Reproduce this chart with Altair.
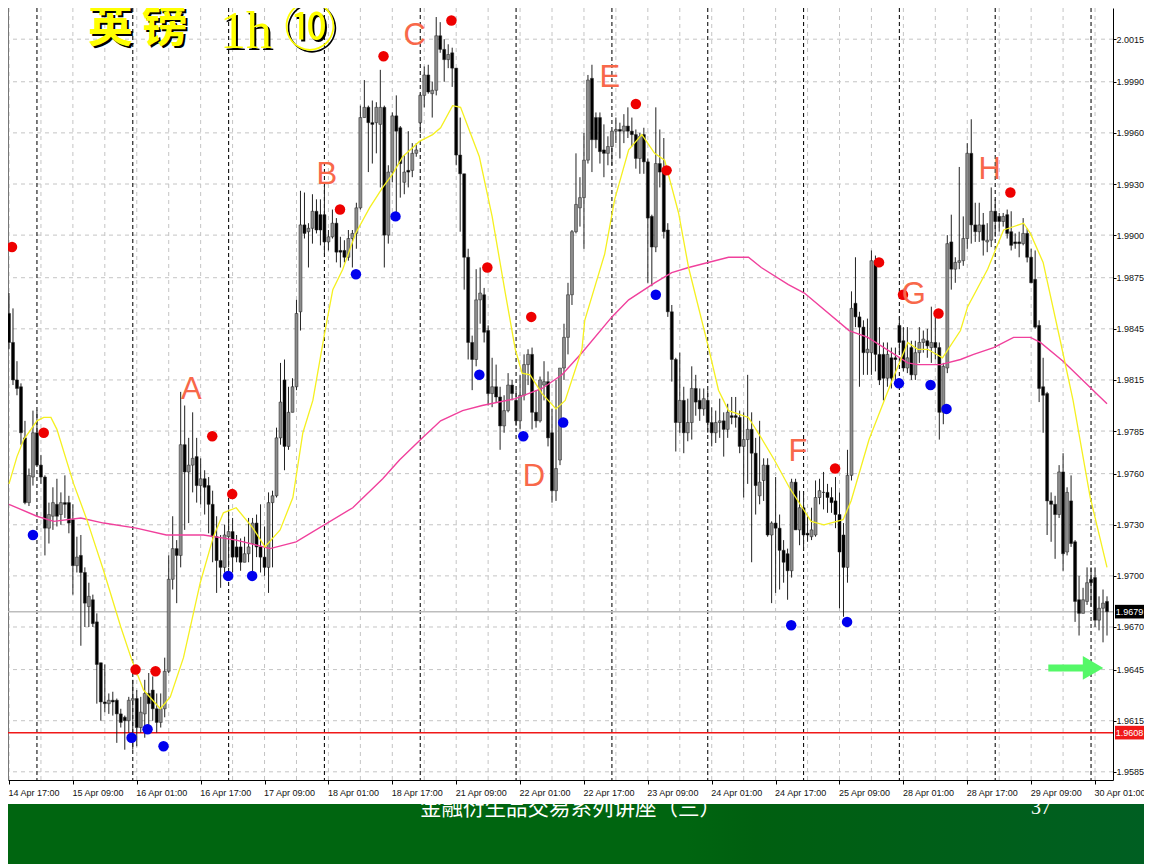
import altair as alt
import pandas as pd

# Prices are held in pips above 1.0000 (9960 = 1.9960)
opens = [
9854,9837,9815,9811,9781,9743,9758,9784,9765,9758,
9728,9735,9742,9736,9743,9743,9733,9706,9712,9702,
9682,9686,9673,9649,9626,9625,9627,9627,9619,9617,
9615,9627,9628,9611,9619,9631,9633,9622,9614,9622,
9644,9698,9716,9712,9777,9761,9765,9770,9753,9757,
9753,9742,9723,9709,9705,9723,9726,9717,9717,9708,
9713,9719,9731,9717,9711,9705,9743,9747,9781,9815,
9776,9796,9811,9855,9906,9902,9904,9914,9912,9912,
9896,9899,9907,9891,9891,9887,9898,9901,9916,9969,
9975,9966,9966,9965,9975,9900,9937,9970,9963,9931,
9938,9938,9948,9966,9982,9994,9983,9985,10017,10009,
10003,10007,9998,9947,9936,9887,9837,9827,9862,9865,
9844,9807,9811,9805,9788,9797,9812,9803,9791,9806,
9824,9830,9796,9791,9812,9814,9784,9750,9768,9822,
9840,9865,9902,9916,9922,9944,9992,9969,9969,9950,
9948,9952,9961,9962,9961,9964,9961,9959,9945,9959,
9943,9911,9893,9942,9939,9903,9855,9827,9790,9803,
9784,9790,9810,9803,9798,9803,9790,9784,9790,9791,
9786,9794,9794,9793,9776,9780,9786,9772,9747,9756,
9765,9724,9731,9728,9715,9713,9703,9755,9727,9740,
9725,9723,9724,9746,9749,9749,9746,9744,9736,9724,
9705,9759,9860,9852,9846,9831,9831,9885,9830,9830,
9816,9828,9828,9847,9838,9822,9834,9818,9831,9837,
9838,9834,9837,9834,9796,9822,9896,9880,9884,9885,
9898,9948,9906,9902,9906,9896,9897,9914,9911,9908,
9912,9902,9896,9896,9895,9901,9887,9874,9847,9811,
9807,9744,9742,9736,9761,9714,9744,9720,9686,9678,
9685,9698,9699,9674,9681,9685]
highs = [
9866,9857,9826,9813,9791,9763,9797,9797,9771,9759,
9743,9752,9757,9749,9759,9747,9742,9723,9724,9705,
9696,9689,9678,9649,9648,9631,9632,9628,9622,9618,
9629,9639,9633,9629,9639,9643,9641,9631,9631,9652,
9712,9735,9721,9808,9800,9781,9796,9781,9769,9762,
9758,9750,9735,9724,9730,9739,9734,9724,9722,9723,
9734,9734,9736,9742,9729,9749,9750,9787,9825,9827,
9811,9816,9862,9926,9925,9907,9924,9921,9921,9929,
9903,9915,9910,9899,9897,9903,9903,9919,9976,9991,
9976,9979,9978,9997,9976,9941,9972,9982,9964,9947,
9961,9954,9954,9983,9999,10000,9990,10028,10025,10015,
10012,10010,9998,9969,9936,9892,9841,9880,9881,9869,
9847,9828,9824,9811,9806,9819,9815,9809,9818,9830,
9833,9834,9809,9817,9826,9820,9798,9815,9822,9848,
9872,9903,9948,9934,9960,9994,10000,9972,9972,9965,
9958,9961,9969,9966,9971,9975,9969,9962,9960,9963,
9945,9912,9975,9962,9957,9907,9859,9828,9831,9811,
9804,9823,9818,9810,9810,9809,9799,9797,9804,9796,
9801,9805,9805,9797,9796,9818,9796,9781,9791,9769,
9769,9732,9758,9736,9721,9716,9757,9757,9750,9749,
9735,9740,9756,9757,9761,9754,9752,9758,9749,9731,
9774,9867,9887,9855,9850,9851,9891,9888,9846,9837,
9837,9834,9834,9852,9846,9846,9838,9838,9846,9844,
9845,9858,9852,9837,9825,9900,9912,9887,9940,9911,
9954,9968,9919,9919,9913,9907,9928,9921,9913,9913,
9915,9914,9901,9902,9910,9904,9892,9891,9850,9828,
9808,9749,9747,9765,9772,9752,9759,9721,9700,9693,
9705,9705,9705,9688,9692,9688]
lows = [
9833,9812,9806,9777,9742,9741,9753,9765,9754,9712,
9719,9727,9729,9730,9734,9725,9689,9702,9659,9670,
9670,9670,9625,9615,9620,9619,9618,9602,9611,9598,
9608,9598,9600,9608,9605,9610,9615,9608,9611,9617,
9643,9692,9684,9705,9727,9731,9749,9743,9742,9736,
9725,9708,9690,9693,9702,9705,9702,9708,9703,9708,
9708,9702,9711,9702,9700,9690,9705,9746,9777,9762,
9774,9796,9809,9844,9898,9881,9895,9901,9894,9889,
9891,9898,9884,9881,9884,9885,9881,9892,9915,9969,
9937,9942,9948,9928,9881,9895,9931,9913,9922,9924,
9928,9934,9946,9960,9975,9983,9969,9982,10007,9990,
9998,9987,9941,9902,9868,9827,9809,9823,9848,9837,
9800,9799,9802,9774,9784,9796,9803,9788,9786,9803,
9812,9786,9787,9790,9803,9776,9743,9744,9765,9815,
9830,9859,9901,9905,9892,9942,9937,9951,9942,9934,
9941,9941,9954,9945,9954,9957,9952,9939,9936,9936,
9872,9870,9890,9928,9898,9852,9814,9773,9784,9772,
9779,9780,9794,9791,9794,9784,9776,9778,9781,9770,
9781,9789,9787,9772,9746,9754,9708,9736,9742,9744,
9723,9684,9690,9692,9696,9686,9699,9727,9718,9716,
9720,9721,9723,9742,9739,9737,9737,9728,9681,9676,
9696,9756,9846,9811,9818,9818,9818,9820,9812,9803,
9811,9810,9815,9831,9820,9819,9815,9815,9825,9831,
9828,9825,9827,9780,9789,9819,9868,9872,9880,9882,
9892,9895,9896,9896,9888,9890,9893,9899,9902,9905,
9898,9891,9892,9887,9894,9884,9872,9845,9802,9784,
9724,9720,9710,9734,9703,9712,9717,9673,9665,9678,
9683,9682,9670,9668,9661,9665]
closes = [
9837,9815,9810,9784,9743,9759,9784,9765,9758,9728,
9736,9743,9735,9743,9742,9731,9706,9711,9702,9684,
9688,9672,9648,9626,9625,9627,9626,9619,9614,9615,
9627,9628,9611,9620,9631,9625,9622,9614,9622,9644,
9698,9716,9712,9777,9761,9765,9769,9753,9757,9752,
9742,9723,9709,9705,9724,9726,9711,9711,9708,9713,
9717,9731,9717,9711,9705,9743,9747,9781,9802,9776,
9796,9811,9854,9906,9901,9904,9914,9903,9903,9896,
9899,9907,9890,9890,9887,9898,9901,9916,9969,9975,
9966,9965,9975,9975,9900,9937,9970,9961,9942,9937,
9937,9948,9950,9982,9994,9984,9985,10017,10009,10003,
10006,9998,9947,9936,9887,9837,9827,9862,9866,9843,
9807,9811,9805,9788,9797,9812,9807,9791,9806,9824,
9830,9796,9791,9815,9814,9781,9750,9763,9822,9840,
9865,9902,9918,9922,9944,9991,9956,9956,9949,9948,
9952,9961,9962,9961,9964,9961,9959,9945,9958,9943,
9910,9893,9942,9937,9902,9855,9827,9790,9803,9784,
9790,9810,9802,9798,9804,9790,9784,9790,9791,9786,
9796,9793,9793,9776,9780,9786,9772,9753,9755,9765,
9724,9731,9728,9715,9708,9703,9755,9727,9740,9724,
9724,9727,9746,9750,9749,9746,9743,9736,9714,9705,
9759,9857,9852,9846,9831,9833,9885,9830,9815,9816,
9830,9816,9827,9837,9822,9828,9818,9831,9837,9839,
9835,9837,9834,9796,9823,9895,9880,9884,9885,9898,
9948,9906,9902,9906,9897,9897,9914,9908,9908,9911,
9901,9894,9895,9895,9901,9887,9872,9846,9810,9806,
9744,9742,9736,9761,9713,9749,9719,9685,9678,9686,
9696,9696,9674,9681,9684,9679]

yellow_bar = [0,2,3.7,7,8.7,10.5,12,16.2,19.5,23.7,28,30.7,33.7,37.9,40.4,43.7,47.9,51.2,53.7,56.9,
61.1,64.1,67.9,71.1,73.6,76.1,79.1,81.1,83.6,86.8,90.3,93.6,96.1,98.6,102.8,106.1,108.1,111.1,113.1,
117.8,121,124.3,126.8,128.5,130.5,133.5,137,139.3,143.5,144.2,149.2,151.7,155.2,158.5,161.7,164.2,
167.7,170.2,175.2,177.7,180.2,185.2,188.4,191.7,195.4,200.9,204.1,208.9,210.9,215.4,220.9,225.1,
227.6,230.1,233.8,238.3,240.1,245.1,249.1,254.1,255.8,259,263.3,266.5,270.8,275]
yellow_val = [9754,9770,9780,9791,9793,9793,9786,9754,9733,9703,9670,9651,9633,9622,9629,9652,9696,9723,9737,9740,
9728,9717,9727,9746,9784,9803,9843,9868,9880,9901,9916,9928,9936,9946,9955,9959,9963,9976,9975,
9946,9911,9866,9833,9819,9818,9807,9798,9803,9833,9850,9889,9921,9950,9959,9948,9944,
9913,9881,9834,9809,9797,9793,9781,9768,9752,9732,9730,9733,9744,9780,9813,9837,
9833,9833,9828,9844,9858,9880,9903,9907,9901,9884,9838,9803,9746,9705]
pink_bar = [0,7,11.2,18,23.7,31.9,39.4,48.7,56.9,65.4,71.9,86.1,93.6,97.8,103.1,108.1,113.6,118.5,126.8,
133.5,138.5,143.5,151,155.2,161.7,166,170.2,180.2,185.2,188.4,195.2,199.2,210.4,215.1,225.1,227.6,
233.3,238.3,241.6,246.6,251.6,255.8,258.3,264,275]
pink_val = [9742,9735,9732,9734,9731,9728,9724,9724,9721,9716,9720,9740,9757,9768,9780,9791,9797,9800,9804,
9810,9818,9831,9852,9862,9872,9878,9881,9887,9887,9881,9871,9866,9844,9840,9825,9824,
9824,9827,9830,9834,9840,9840,9837,9826,9801]

red_bar = [0.75,8.7,31.7,36.7,50.9,55.9,82.9,93.8,110.8,119.8,130.8,157,164.7,206.9,217.9,223.9,232.8,250.8]
red_val = [9893,9784,9645,9644,9782,9748,9915,10005,10026,9881,9852,9977,9938,9763,9884,9865,9854,9925]
blue_bar = [6,30.7,34.7,38.7,54.9,60.9,86.9,96.8,117.8,128.8,138.8,162,195.9,209.9,222.9,230.8,234.8]
blue_val = [9724,9605,9610,9600,9700,9700,9877,9911,9818,9782,9790,9865,9671,9673,9813,9812,9798]

letters = ["A","B","C","D","E","F","G","H"]
letter_bar = [45.7,79.6,101.6,131.5,150.5,197.6,226.6,245.6]
letter_val = [9809,9935,10017,9758,9992,9773,9865,9938]

y_ticks = [2.0015,1.9990,1.9960,1.9930,1.9900,1.9875,1.9845,1.9815,1.9785,1.9760,1.9730,1.9700,1.9670,1.9645,1.9615,1.9585]
x_labels = ["14 Apr 17:00","15 Apr 09:00","16 Apr 01:00","16 Apr 17:00","17 Apr 09:00","18 Apr 01:00",
            "18 Apr 17:00","21 Apr 09:00","22 Apr 01:00","22 Apr 17:00","23 Apr 09:00","24 Apr 01:00",
            "24 Apr 17:00","25 Apr 09:00","28 Apr 01:00","28 Apr 17:00","29 Apr 09:00","30 Apr 01:00"]
grid_bars = list(range(0, 277, 8))
day_bars = list(range(7, 277, 24))
last_price = 1.9679
low_price = 1.9608
axis_font = "Liberation Sans"


def px(v):
    return 1 + v / 10000


bars = pd.DataFrame({
    "bar": list(range(len(opens))),
    "open": [px(v) for v in opens],
    "high": [px(v) for v in highs],
    "low": [px(v) for v in lows],
    "close": [px(v) for v in closes],
})
bars["up"] = bars["close"] >= bars["open"]

xs = alt.Scale(domain=[-0.25, 276.5], nice=False, zero=False, padding=0)
ys = alt.Scale(domain=[1.95802, 2.00333], nice=False, zero=False, padding=0)

label_expr = "[" + ",".join(f"'{s}'" for s in x_labels) + "][datum.value/16]"
x_axis = alt.Axis(
    values=[i * 16 for i in range(18)], labelExpr=label_expr, grid=False, title=None,
    labelAlign="left", labelFont=axis_font, labelFontSize=9, labelColor="#111",
    tickColor="#000", domainColor="#000", tickSize=4, labelPadding=4, labelFlush=False,
    labelOffset=-1, labelOverlap=False)
y_axis = alt.Axis(
    orient="right", values=y_ticks, format=".4f", grid=False, title=None,
    labelFont=axis_font, labelFontSize=9, labelColor="#111",
    tickColor="#000", domainColor="#000", tickSize=3, labelPadding=0, labelOverlap=False)

X = alt.X("bar:Q", scale=xs, axis=x_axis)
Y = alt.Y("v:Q", scale=ys, axis=y_axis)

v_grid = alt.Chart(pd.DataFrame({"bar": grid_bars})).mark_rule(
    color="#c4c4c4", strokeWidth=1, strokeDash=[4, 4]).encode(x=X)
h_grid = alt.Chart(pd.DataFrame({"v": y_ticks})).mark_rule(
    color="#c4c4c4", strokeWidth=1, strokeDash=[4, 4]).encode(y=Y)
day_sep = alt.Chart(pd.DataFrame({"bar": day_bars})).mark_rule(
    color="#111", strokeWidth=1.1, strokeDash=[4, 3]).encode(x=X)
left_edge = alt.Chart(pd.DataFrame({"bar": [-0.25]})).mark_rule(color="#777", strokeWidth=2).encode(x=X)
last_line = alt.Chart(pd.DataFrame({"v": [last_price]})).mark_rule(color="#bdbdbd", strokeWidth=1.5).encode(y=Y)
low_line = alt.Chart(pd.DataFrame({"v": [low_price]})).mark_rule(color="#f01818", strokeWidth=1.5).encode(y=Y)

wicks = alt.Chart(bars).mark_rule(color="#222", strokeWidth=1).encode(
    x=X, y=alt.Y("low:Q", scale=ys, axis=y_axis), y2="high:Q")
bodies = alt.Chart(bars).mark_bar(size=3, stroke="#222", strokeWidth=0.5).encode(
    x=X,
    y=alt.Y("open:Q", scale=ys, axis=y_axis),
    y2="close:Q",
    fill=alt.Fill("up:N", scale=alt.Scale(domain=[True, False], range=["#8c8c8c", "#000000"]), legend=None),
)

yellow = alt.Chart(pd.DataFrame({"bar": yellow_bar, "v": [px(v) for v in yellow_val]})).mark_line(
    color="#f5f020", strokeWidth=1.3).encode(x=X, y=Y)
pink = alt.Chart(pd.DataFrame({"bar": pink_bar, "v": [px(v) for v in pink_val]})).mark_line(
    color="#f0409c", strokeWidth=1.4).encode(x=X, y=Y)

red = alt.Chart(pd.DataFrame({"bar": red_bar, "v": [px(v) for v in red_val]})).mark_point(
    filled=True, color="#ee0000", size=110, opacity=1, shape="circle").encode(x=X, y=Y)
blue = alt.Chart(pd.DataFrame({"bar": blue_bar, "v": [px(v) for v in blue_val]})).mark_point(
    filled=True, color="#0000ee", size=110, opacity=1, shape="circle").encode(x=X, y=Y)

letter_marks = alt.Chart(pd.DataFrame({"bar": letter_bar, "v": [px(v) for v in letter_val], "t": letters})).mark_text(
    font="Liberation Sans", fontSize=31, color="#f8684a", baseline="middle", align="center").encode(x=X, y=Y, text="t:N")

arrow_shaft = alt.Chart(pd.DataFrame({"bar": [260.3], "b2": [270.0], "v": [1.9646]})).mark_rule(
    color="#55f868", strokeWidth=7).encode(x=X, x2="b2:Q", y=Y)
arrow_head = alt.Chart(pd.DataFrame({"bar": [271.5], "v": [1.9646]})).mark_point(
    filled=True, shape="triangle-right", size=560, color="#55f868", opacity=1).encode(x=X, y=Y)


def box(price, color):
    d = pd.DataFrame({"v": [price + 0.0004], "v2": [price - 0.0004], "t": [f"{price:.4f}"], "c": [price]})
    r = alt.Chart(d).mark_rect(color=color).encode(
        x=alt.value(1107), x2=alt.value(1136), y=Y, y2="v2:Q")
    t = alt.Chart(d).mark_text(font=axis_font, fontSize=9, color="#fff", align="center", baseline="middle").encode(
        x=alt.value(1121.5), y=alt.Y("c:Q", scale=ys, axis=y_axis), text="t:N")
    return r + t


def label(text, x, y, size, font, color, weight="normal", align="left"):
    return alt.Chart(pd.DataFrame({"t": [text]})).mark_text(
        font=font, fontSize=size, color=color, fontWeight=weight, align=align, baseline="middle"
    ).encode(x=alt.value(x), y=alt.value(y), text="t:N")


def shadowed(text, x, y, size, font, weight="normal"):
    return label(text, x + 2, y + 2, size, font, "#000", weight) + label(text, x, y, size, font, "#ffff00", weight)


title = (
    shadowed("英", 80, 20, 45, "Noto Sans CJK SC", "bold")
    + shadowed("镑", 134, 20, 45, "Noto Sans CJK SC", "bold")
    + shadowed("1h", 212, 24, 52, "Liberation Serif")
    + shadowed("⑩", 276, 22, 52, "Noto Sans CJK SC")
)

footer = alt.Chart(pd.DataFrame({"a": [0]})).mark_rect(
    fill=alt.Gradient(gradient="linear", x1=0, x2=1, y1=0, y2=0, stops=[
        alt.GradientStop(offset=0, color="#006510"),
        alt.GradientStop(offset=0.6, color="#006510"),
        alt.GradientStop(offset=0.66, color="#005f10"),
        alt.GradientStop(offset=1, color="#005f22"),
    ])
).encode(x=alt.value(-8), x2=alt.value(1136), y=alt.value(796), y2=alt.value(860))

footer_text = label("金融衍生品交易系列讲座（三）", 412, 801, 21.5, "Noto Sans CJK SC", "#ffffff")
page_no = label("37", 1023, 800, 20, "Liberation Serif", "#ffffff")

chart = alt.layer(
    footer, footer_text, page_no,
    h_grid, v_grid, day_sep, left_edge, last_line, low_line,
    wicks, bodies, pink, yellow, red, blue, letter_marks,
    arrow_shaft, arrow_head, box(last_price, "#000000"), box(low_price, "#f01818"),
    title,
).properties(
    width=1105, height=772,
    padding={"left": 0, "top": 0, "right": 31, "bottom": 84},
    autosize=alt.AutoSizeParams(type="none"),
    background="#ffffff",
).configure_view(stroke=None)

chart.save("out.html", embed_options={"renderer": "svg", "actions": False})
